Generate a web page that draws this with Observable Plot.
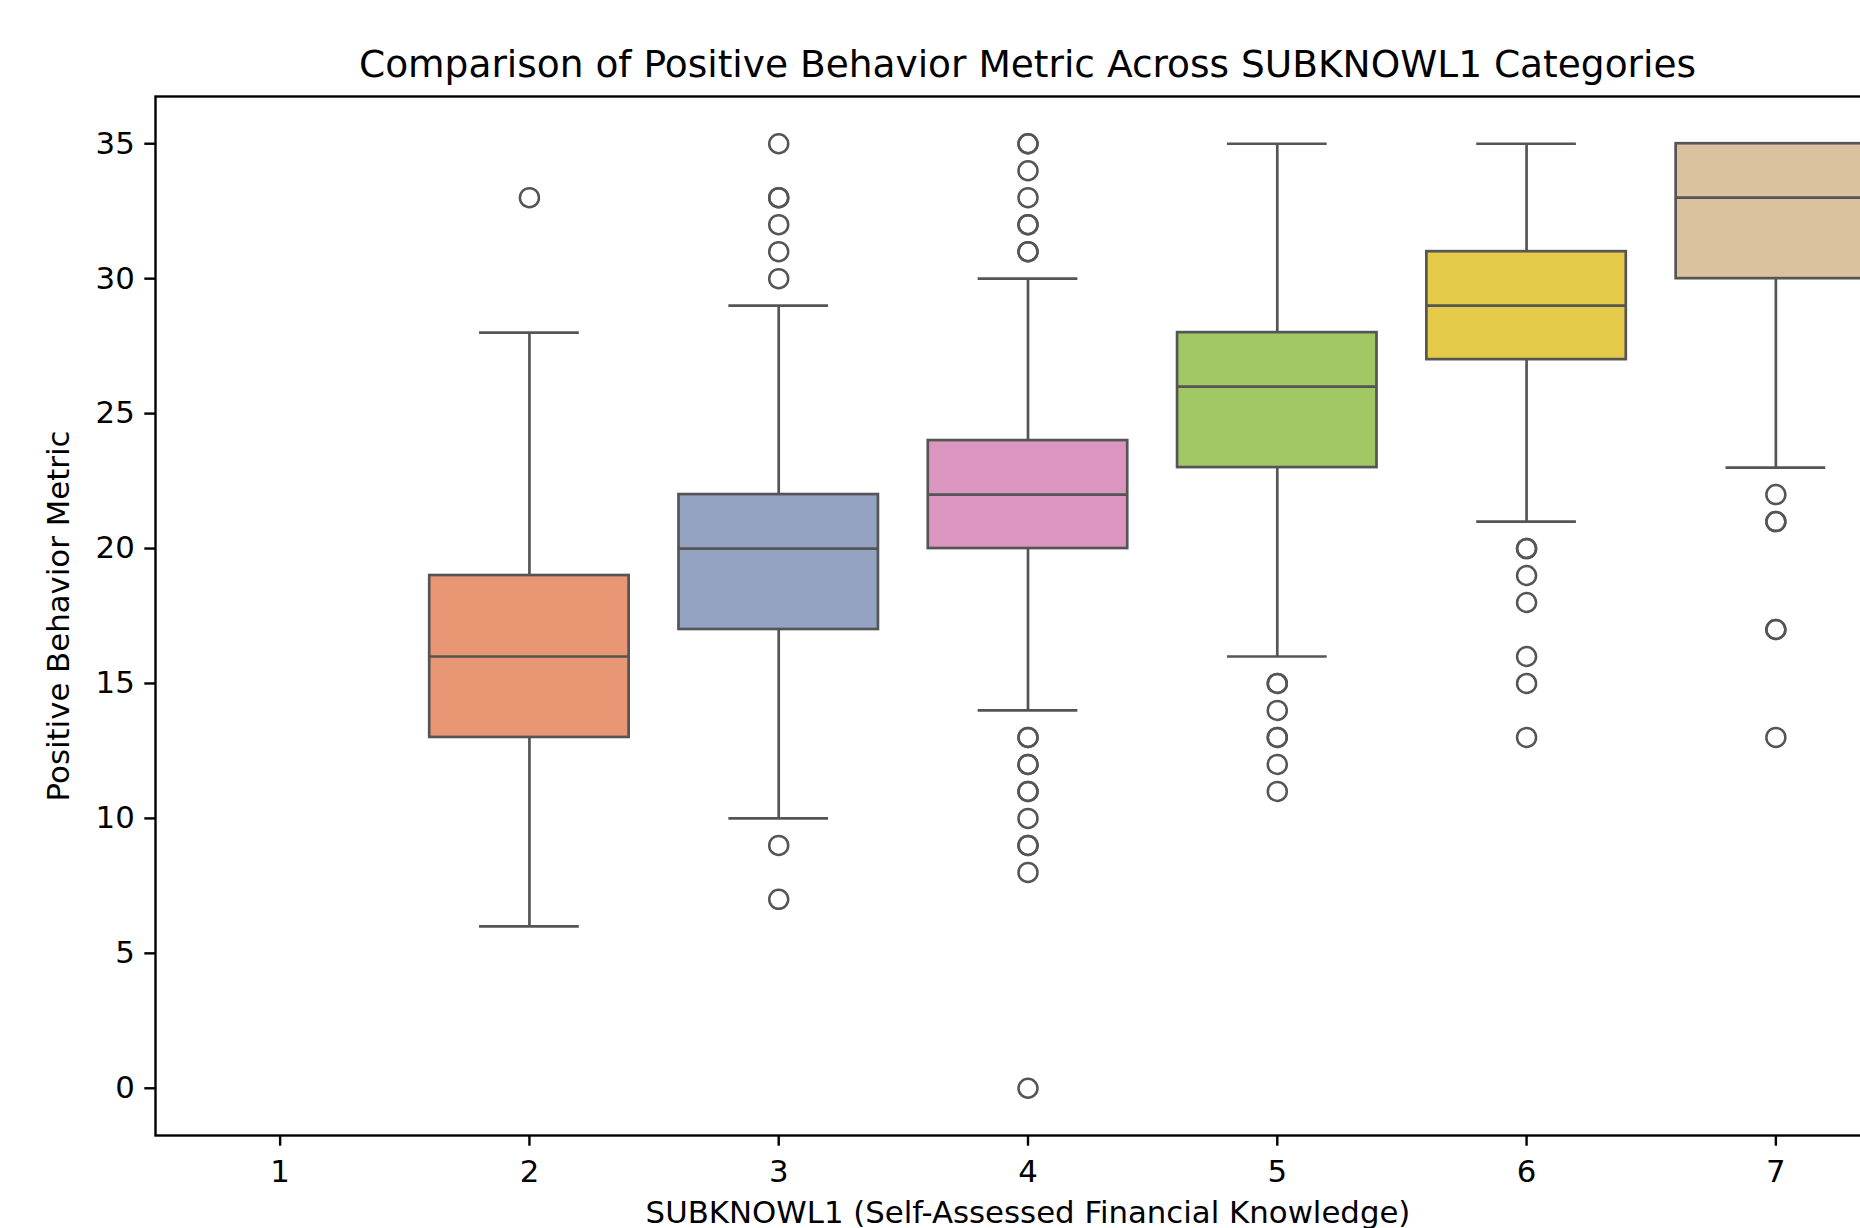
<!DOCTYPE html>
<html>
<head>
<meta charset="utf-8">
<script src="https://cdn.jsdelivr.net/npm/d3@7"></script>
<script src="https://cdn.jsdelivr.net/npm/@observablehq/plot@0.6"></script>
<style>
  html, body { margin: 0; padding: 0; background: #fff; overflow: hidden; width: 1860px; height: 1228px; }
  #wrap { position: relative; width: 1960px; height: 1300px; }
  #title { position: absolute; left: 155px; width: 1745px; top: 46px; text-align: center;
           font-family: "DejaVu Sans", sans-serif; font-size: 37.5px; line-height: 1; color: #000; white-space: nowrap; }
  #chart { position: absolute; left: 0; top: 0; }
</style>
</head>
<body>
<div id="wrap">
  <div id="chart"></div>
  <div id="title">Comparison of Positive Behavior Metric Across SUBKNOWL1 Categories</div>
</div>
<script>
// ---- Data ----
const categories = [1, 2, 3, 4, 5, 6, 7];
const boxCategories = [2, 3, 4, 5, 6, 7];
const whiskerLow  = [6, 10, 14, 16, 21, 23];
const q1          = [13, 17, 20, 23, 27, 30];
const median      = [16, 20, 22, 26, 29, 33];
const q3          = [19, 22, 24, 28, 31, 35];
const whiskerHigh = [28, 29, 30, 35, 35, 35];

const outliers2 = [33];
const outliers3 = [35, 33, 33, 32, 31, 30, 9, 7];
const outliers4 = [35, 35, 34, 33, 32, 32, 31, 31, 13, 13, 12, 12, 11, 11, 10, 9, 9, 8, 0];
const outliers5 = [15, 15, 14, 13, 13, 12, 11];
const outliers6 = [20, 20, 19, 18, 16, 15, 13];
const outliers7 = [22, 21, 21, 17, 17, 13];
const outlierLists = [outliers2, outliers3, outliers4, outliers5, outliers6, outliers7];

const yTicks = [0, 5, 10, 15, 20, 25, 30, 35];
const set2 = ["#66c2a5", "#fc8d62", "#8da0cb", "#e78ac3", "#a6d854", "#ffd92f", "#e5c494"];

// ---- Build tables ----
const palette = set2.map(c => { const h = d3.hsl(c); h.s *= 0.75; return h.formatHex(); });
const boxes = boxCategories.map((c, i) => ({
  cat: c, lo: whiskerLow[i], q1: q1[i], med: median[i], q3: q3[i], hi: whiskerHigh[i],
  color: palette[categories.indexOf(c)]
}));
const fliers = boxCategories.flatMap((c, i) => outlierLists[i].map(v => ({cat: c, v})));

const LINE = "#555555";
const LW = 2.7;
const FS = 30.8;

const plot = Plot.plot({
  width: 1960,
  height: 1300,
  marginLeft: 155,
  marginRight: 60,
  marginTop: 96,
  marginBottom: 165,
  style: {fontFamily: "DejaVu Sans, sans-serif", fontSize: FS + "px", color: "#000", background: "transparent", overflow: "visible"},
  x: {domain: [0.5, 7.5], ticks: categories},
  y: {domain: [-1.75, 36.75], ticks: yTicks},
  marks: [
    Plot.ruleX(boxes, {x: "cat", y1: "lo", y2: "q1", stroke: LINE, strokeWidth: LW}),
    Plot.ruleX(boxes, {x: "cat", y1: "q3", y2: "hi", stroke: LINE, strokeWidth: LW}),
    Plot.ruleY(boxes, {y: "lo", x1: d => d.cat - 0.2, x2: d => d.cat + 0.2, stroke: LINE, strokeWidth: LW}),
    Plot.ruleY(boxes, {y: "hi", x1: d => d.cat - 0.2, x2: d => d.cat + 0.2, stroke: LINE, strokeWidth: LW}),
    Plot.rect(boxes, {x1: d => d.cat - 0.4, x2: d => d.cat + 0.4, y1: "q1", y2: "q3", fill: "color", stroke: LINE, strokeWidth: LW}),
    Plot.ruleY(boxes, {y: "med", x1: d => d.cat - 0.4, x2: d => d.cat + 0.4, stroke: LINE, strokeWidth: LW}),
    Plot.dot(fliers, {x: "cat", y: "v", r: 9.5, fill: "none", stroke: LINE, strokeWidth: 2.5}),
    Plot.frame({stroke: "#000", strokeWidth: 2.4}),
    Plot.axisX({ticks: categories, tickFormat: d3.format("d"), tickSize: 10.7, tickPadding: 14, strokeWidth: 2.4, fill: "#000", stroke: "#000", fontSize: FS,
      label: "SUBKNOWL1 (Self-Assessed Financial Knowledge)", labelAnchor: "center", labelArrow: "none", labelOffset: 87}),
    Plot.axisY({ticks: yTicks, tickFormat: d3.format("d"), tickSize: 10.7, tickPadding: 10, strokeWidth: 2.4, fill: "#000", stroke: "#000", fontSize: FS,
      label: "Positive Behavior Metric", labelAnchor: "center", labelArrow: "none", labelOffset: 108})
  ]
});
document.getElementById("chart").appendChild(plot);
</script>
</body>
</html>
